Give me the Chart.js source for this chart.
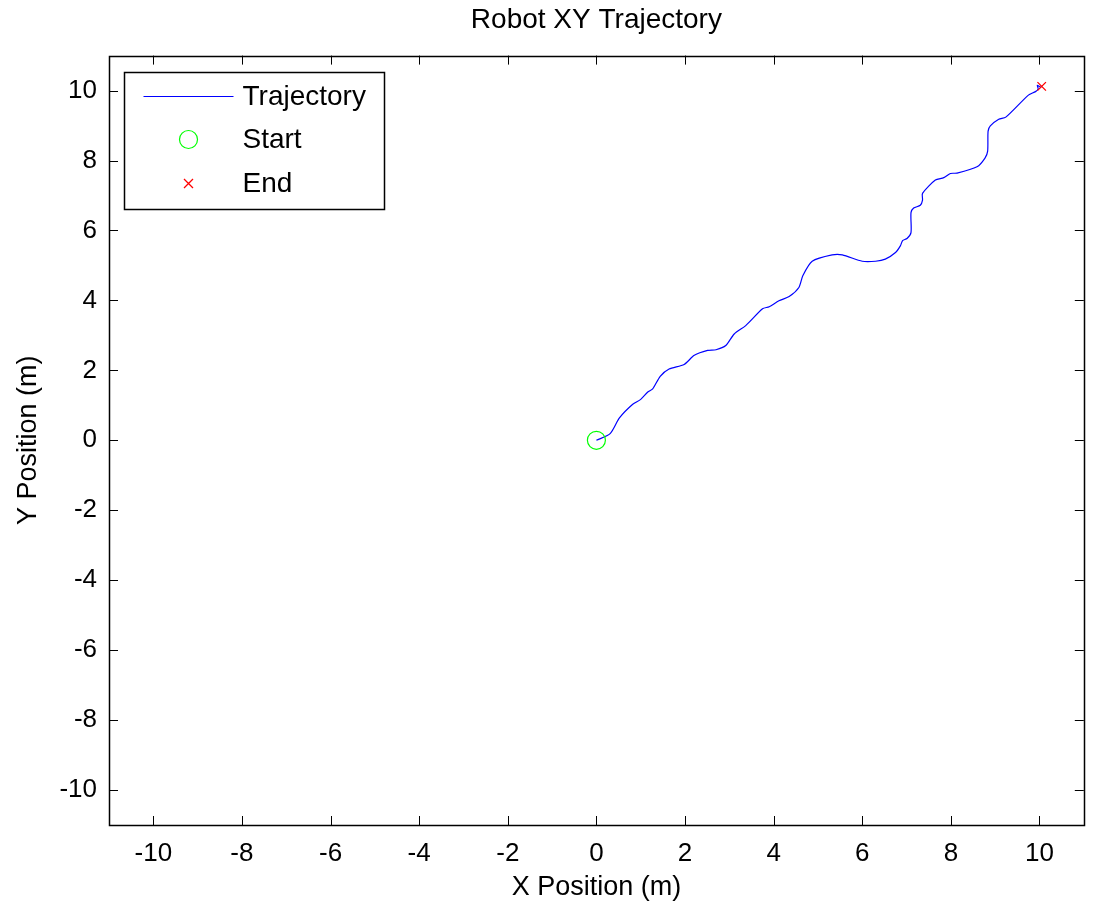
<!DOCTYPE html>
<html>
<head>
<meta charset="utf-8">
<script src="https://cdn.jsdelivr.net/npm/chart.js@4.4.0/dist/chart.umd.min.js"></script>
<style>
  html, body { margin: 0; padding: 0; background: #fff; }
  canvas { display: block; }
</style>
</head>
<body>
<canvas id="traj-chart" width="1094" height="907"></canvas>
<script>
// trajectory (metres)
const trajX = [0, 0.31, 0.52, 0.82, 1.0, 1.16, 1.27, 1.44, 1.64, 1.98, 2.21, 2.51, 2.70, 2.92, 3.11, 3.37, 3.75, 3.90, 4.12, 4.35, 4.57, 4.66, 4.87, 5.32, 5.55, 6.0, 6.30, 6.52, 6.75, 6.86, 6.91, 7.01, 7.10, 7.10, 7.16, 7.31, 7.36, 7.36, 7.65, 7.84, 7.99, 8.14, 8.59, 8.77, 8.83, 8.84, 8.89, 9.08, 9.24, 9.75, 9.91, 9.97, 9.95, 10.02, 10.05]
const trajY = [0, 0.19, 0.64, 1.03, 1.17, 1.38, 1.47, 1.83, 2.04, 2.17, 2.43, 2.57, 2.59, 2.71, 3.04, 3.28, 3.76, 3.82, 3.99, 4.11, 4.37, 4.71, 5.12, 5.30, 5.30, 5.12, 5.12, 5.18, 5.37, 5.56, 5.71, 5.77, 5.94, 6.51, 6.64, 6.72, 6.87, 7.06, 7.44, 7.51, 7.63, 7.64, 7.82, 8.07, 8.27, 8.84, 8.99, 9.18, 9.24, 9.87, 9.97, 10.05, 10.15, 10.10, 10.12]
const startPt = [0, 0]
const endPt = [10.05, 10.12]
const xTicks = [-10, -8, -6, -4, -2, 0, 2, 4, 6, 8, 10]
const yTicks = [-10, -8, -6, -4, -2, 0, 2, 4, 6, 8, 10]
const axisMin = -11, axisMax = 11
const legendLabels = ['Trajectory', 'Start', 'End']

const FONT = 'Liberation Sans, Arial, Helvetica, sans-serif'

function toPoints(xs, ys){
    let pts = []
    for (let i = 0; i < xs.length; i++) {
        pts.push({x: xs[i], y: ys[i]})
    }
    return pts
}

// matlab style box: frame on all sides and inward ticks
const boxPlugin = {
    id: 'matlabBox',
    afterDraw(chart) {
        const ctx = chart.ctx
        const a = chart.chartArea
        const xs = chart.scales.x, ys = chart.scales.y
        const tl = 9
        ctx.save()
        ctx.strokeStyle = '#000'
        ctx.lineWidth = 1
        ctx.beginPath()
        xTicks.forEach(v => {
            const px = Math.round(xs.getPixelForValue(v)) + 0.5
            ctx.moveTo(px, a.bottom); ctx.lineTo(px, a.bottom - tl)
            ctx.moveTo(px, a.top); ctx.lineTo(px, a.top + tl)
        })
        yTicks.forEach(v => {
            const py = Math.round(ys.getPixelForValue(v)) + 0.5
            ctx.moveTo(a.left, py); ctx.lineTo(a.left + tl, py)
            ctx.moveTo(a.right, py); ctx.lineTo(a.right - tl, py)
        })
        ctx.stroke()
        ctx.lineWidth = 1.5
        ctx.strokeRect(Math.round(a.left) + 0.5, Math.round(a.top) + 0.5, Math.round(a.right - a.left), Math.round(a.bottom - a.top))

        // legend
        const lx = Math.round(a.left) + 15.5, ly = Math.round(a.top) + 16.5
        const lw = 260, lh = 137
        ctx.fillStyle = '#fff'
        ctx.fillRect(lx, ly, lw, lh)
        ctx.lineWidth = 1.5
        ctx.strokeStyle = '#000'
        ctx.strokeRect(lx, ly, lw, lh)
        const rows = [ly + 24, ly + 67, ly + 111]
        const sx = lx + 64
        // line sample
        ctx.strokeStyle = '#0000ff'
        ctx.lineWidth = 1.2
        ctx.beginPath()
        ctx.moveTo(lx + 19, rows[0]); ctx.lineTo(lx + 109, rows[0])
        ctx.stroke()
        // circle sample
        ctx.strokeStyle = '#00ff00'
        ctx.beginPath()
        ctx.arc(sx, rows[1], 9, 0, Math.PI * 2)
        ctx.stroke()
        // cross sample
        ctx.strokeStyle = '#ff0000'
        ctx.lineWidth = 1.3
        ctx.beginPath()
        ctx.moveTo(sx - 4.5, rows[2] - 4.5); ctx.lineTo(sx + 4.5, rows[2] + 4.5)
        ctx.moveTo(sx - 4.5, rows[2] + 4.5); ctx.lineTo(sx + 4.5, rows[2] - 4.5)
        ctx.stroke()
        ctx.fillStyle = '#000'
        ctx.font = '28px ' + FONT
        ctx.textBaseline = 'middle'
        ctx.textAlign = 'left'
        legendLabels.forEach((t, i) => ctx.fillText(t, lx + 118, rows[i] + 1))
        ctx.restore()
    }
}

new Chart(document.getElementById('traj-chart'), {
    type: 'scatter',
    data: {
        datasets: [
            {
                label: legendLabels[0],
                data: toPoints(trajX, trajY),
                showLine: true,
                borderColor: '#0000ff',
                borderWidth: 1.2,
                pointRadius: 0,
                tension: 0.25,
                order: 2
            },
            {
                label: legendLabels[1],
                data: [{x: startPt[0], y: startPt[1]}],
                pointStyle: 'circle',
                pointRadius: 9,
                borderColor: '#00ff00',
                backgroundColor: 'rgba(0,0,0,0)',
                borderWidth: 1.2,
                order: 1
            },
            {
                label: legendLabels[2],
                data: [{x: endPt[0], y: endPt[1]}],
                pointStyle: 'crossRot',
                pointRadius: 6,
                borderColor: '#ff0000',
                borderWidth: 1.3,
                order: 0
            }
        ]
    },
    options: {
        responsive: false,
        animation: false,
        devicePixelRatio: 1,
        layout: { padding: { left: 0, top: 0, right: 8, bottom: 0 } },
        plugins: {
            legend: { display: false },
            tooltip: { enabled: false },
            title: {
                display: true,
                text: 'Robot XY Trajectory',
                fullSize: false,
                color: '#000',
                font: { family: FONT, size: 28, weight: 'normal' },
                padding: { top: 3, bottom: 19 }
            }
        },
        scales: {
            x: {
                type: 'linear',
                min: axisMin,
                max: axisMax,
                afterBuildTicks: scale => { scale.ticks = xTicks.map(v => ({value: v})) },
                afterFit: scale => { scale.height = 82 },
                grid: { display: false, drawTicks: false },
                border: { display: false },
                ticks: { color: '#000', padding: 13, maxRotation: 0, autoSkip: false, font: { family: FONT, size: 26 } },
                title: { display: true, text: 'X Position (m)', color: '#000', font: { family: FONT, size: 27 }, padding: { top: 0, bottom: 3 } }
            },
            y: {
                type: 'linear',
                min: axisMin,
                max: axisMax,
                afterBuildTicks: scale => { scale.ticks = yTicks.map(v => ({value: v})) },
                afterFit: scale => { scale.width = 109 },
                grid: { display: false, drawTicks: false },
                border: { display: false },
                ticks: { color: '#000', padding: 12, autoSkip: false, font: { family: FONT, size: 26 } },
                title: { display: true, text: 'Y Position (m)', color: '#000', font: { family: FONT, size: 27 }, padding: { top: 12, bottom: 0 } }
            }
        }
    },
    plugins: [boxPlugin]
});
</script>
</body>
</html>
